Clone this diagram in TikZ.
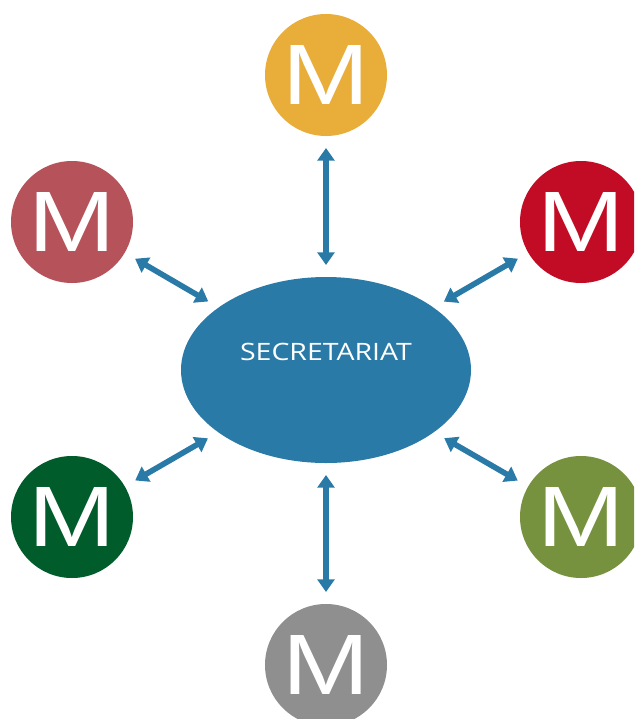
\documentclass[tikz,border=0pt]{standalone}
\usepackage{fontspec}
\newfontfamily\memfont{Liberation Sans}
\newfontfamily\secfont{Open Sans}
\usetikzlibrary{shapes.geometric,arrows.meta}

\definecolor{secblue}{HTML}{2A7AA7}
\definecolor{myellow}{HTML}{E9AD3A}
\definecolor{mrose}{HTML}{B5525A}
\definecolor{mred}{HTML}{C20B24}
\definecolor{mdkgreen}{HTML}{005C2B}
\definecolor{molive}{HTML}{76923E}
\definecolor{mgrey}{HTML}{8F8F8F}

\newcommand{\wideM}{\scalebox{1.22}[1]{M}}

\begin{document}
\begin{tikzpicture}[
    x=0.025cm, y=-0.025cm,
    member/.style={
        circle, minimum size=122*0.025cm, inner sep=0pt, outer sep=0pt,
        text=white, font=\memfont\fontsize{61}{61}\selectfont
      },
    secretariat/.style={
        ellipse, fill=secblue, minimum width=290*0.025cm,
        minimum height=186*0.025cm, inner sep=0pt, outer sep=0pt
      },
    sectext/.style={text=white, font=\secfont\fontsize{17}{17}\selectfont},
    link/.style={
        draw=secblue, line width=4pt, shorten <=12*0.025cm, shorten >=12*0.025cm,
        {Triangle[width=12pt,length=9pt]}-{Triangle[width=12pt,length=9pt]}
      }
  ]

  % fixed frame of the picture
  \useasboundingbox (0,0) rectangle (634,719);
  \clip (0,0) rectangle (634,719);

  % secretariat in the middle
  \node[secretariat] (sec) at (326,370) {};
  \node[sectext] (sectitle) at ([yshift=18*0.025cm]sec.center)
    {\scalebox{1.19}[1]{SECRETARIAT}};

  % members round it
  \node[member, fill=myellow]  (mtop) at (326,75)  {\wideM};
  \node[member, fill=mrose]    (mlt)  at (72,222)  {\wideM};
  \node[member, fill=mred]     (mrt)  at (581,222) {\wideM};
  \node[member, fill=mdkgreen] (mlb)  at (72,517)  {\wideM};
  \node[member, fill=molive]   (mrb)  at (581,517) {\wideM};
  \node[member, fill=mgrey]    (mbot) at (326,665) {\wideM};

  % two-way links
  \draw[link] (mtop) -- (sec);
  \draw[link] (mlt) -- (sec);
  \draw[link] (mrt) -- (sec);
  \draw[link] (mlb) -- (sec);
  \draw[link] (mrb) -- (sec);
  \draw[link] (mbot) -- (sec);
\end{tikzpicture}
\end{document}
